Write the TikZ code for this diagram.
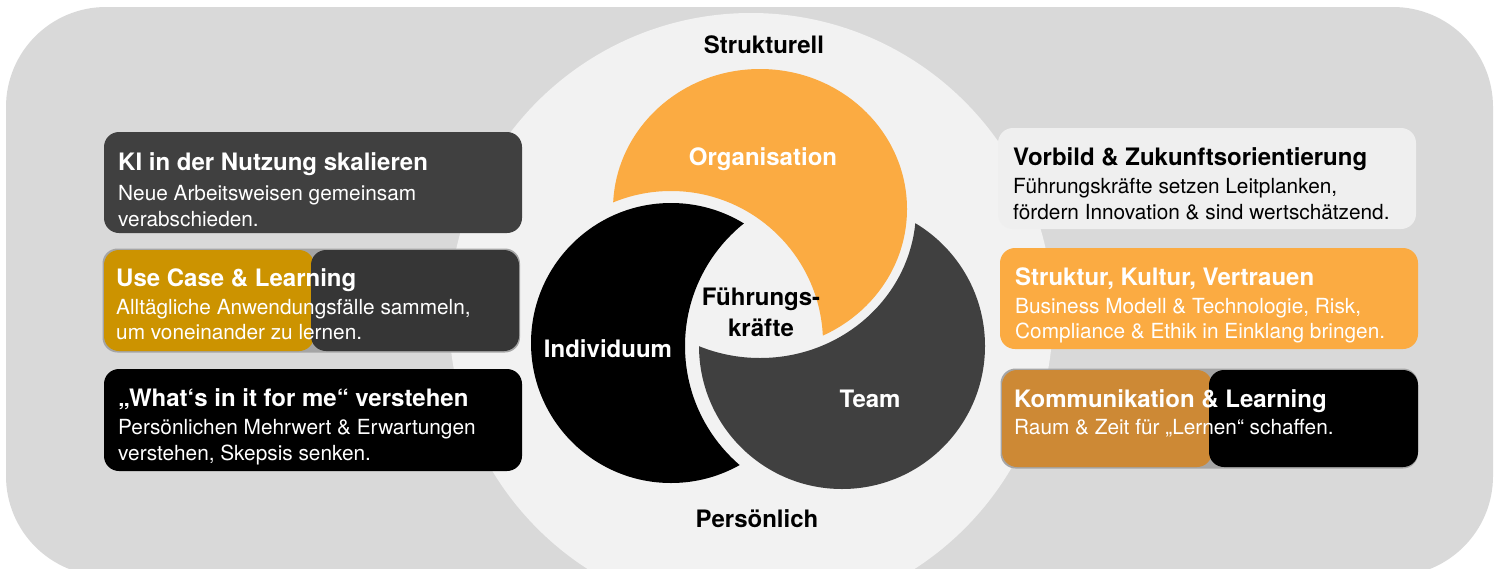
\documentclass[tikz,border=0pt]{standalone}
\usepackage{fontspec}
\setmainfont{TeX Gyre Heros}
\begin{document}
\begin{tikzpicture}[x=1pt,y=-1pt,
  title/.style={anchor=base west, inner sep=0pt, font=\bfseries\fontsize{24}{28}\selectfont},
  body/.style={anchor=base west, inner sep=0pt, font=\fontsize{20.8}{26}\selectfont},
  lab/.style={anchor=base, inner sep=0pt, font=\bfseries\fontsize{24}{28}\selectfont},
  card/.style={rounded corners=15pt}]
\definecolor{bgc}{HTML}{D9D9D9}
\definecolor{lightc}{HTML}{F2F2F2}
\definecolor{orangec}{HTML}{FBAB42}
\definecolor{teamc}{HTML}{404040}
\definecolor{goldc}{HTML}{CC9300}
\definecolor{darkc}{HTML}{363636}
\definecolor{brownc}{HTML}{CD8935}
\definecolor{shadowc}{HTML}{A5A5A5}
\definecolor{cardlight}{HTML}{EFEFEF}
\useasboundingbox (0,0) rectangle (1504,568);
\clip (0,0) rectangle (1504,568);
% background
\fill[bgc, rounded corners=100pt] (6,7) rectangle (1493,576);
\fill[lightc] (751,315) circle[radius=302pt];
% crescents: each outer shape minus the next shape enlarged by a gap
\begin{scope}
  \clip (760,209) ellipse[x radius=147pt, y radius=140pt];
  \fill[orangec, even odd rule] (400,0) rectangle (1100,568)
        (671,343) circle[radius=152pt];
\end{scope}
\begin{scope}
  \clip (671,343) circle[radius=140pt];
  \fill[black, even odd rule] (400,0) rectangle (1100,568)
        (842,346) circle[radius=157pt];
\end{scope}
\begin{scope}
  \clip (842,346) circle[radius=143pt];
  \fill[teamc, even odd rule] (400,0) rectangle (1100,568)
        (760,209) ellipse[x radius=156pt, y radius=149pt];
\end{scope}
% center labels
\node[lab] (strukturell) at (764,53) {Strukturell};
\node[lab, text=white] (org) at (763,165) {Organisation};
\node[lab] (fk1) at (761,305) {Führungs-};
\node[lab] (fk2) at (761,336) {kräfte};
\node[lab, text=white] (ind) at (608,357) {Individuum};
\node[lab, text=white] (team) at (870,407) {Team};
\node[lab] (pers) at (757,527) {Persönlich};
% left cards
\fill[teamc, card] (104,132) rectangle (522,233);
\node[title, text=white] (l1t) at (118,170) {KI in der Nutzung skalieren};
\node[body, text=white] (l1a) at (118,200) {Neue Arbeitsweisen gemeinsam};
\node[body, text=white] (l1b) at (118,226) {verabschieden.};

\fill[shadowc, card] (102.5,248.5) rectangle (520,352.5);
\fill[goldc, card] (104,250) rectangle (314,351);
\fill[darkc, card] (311,250) rectangle (519,351);
\node[title, text=white] (l2t) at (116,286) {Use Case \& Learning};
\node[body, text=white] (l2a) at (116,314) {Alltägliche Anwendungsfälle sammeln,};
\node[body, text=white] (l2b) at (116,339) {um voneinander zu lernen.};

\fill[black, card] (104,369) rectangle (522,471);
\node[title, text=white] (l3t) at (118,406) {„What‘s in it for me“ verstehen};
\node[body, text=white] (l3a) at (118,434) {Persönlichen Mehrwert \& Erwartungen};
\node[body, text=white] (l3b) at (118,460) {verstehen, Skepsis senken.};
% right cards
\fill[cardlight, card] (998,128) rectangle (1416,229);
\node[title] (r1t) at (1013,165) {Vorbild \& Zukunftsorientierung};
\node[body] (r1a) at (1013,193) {Führungskräfte setzen Leitplanken,};
\node[body] (r1b) at (1013,219) {fördern Innovation \& sind wertschätzend.};

\fill[orangec, card] (1000,248) rectangle (1418,349);
\node[title, text=white] (r2t) at (1015,285) {Struktur, Kultur, Vertrauen};
\node[body, text=white] (r2a) at (1015,313) {Business Modell \& Technologie, Risk,};
\node[body, text=white] (r2b) at (1015,338) {Compliance \& Ethik in Einklang bringen.};

\fill[shadowc, card] (1000.5,368.5) rectangle (1418,468.5);
\fill[brownc, card] (1002,370) rectangle (1212,467);
\fill[black, card] (1209,370) rectangle (1418,467);
\node[title, text=white] (r3t) at (1014,407) {Kommunikation \& Learning};
\node[body, text=white] (r3a) at (1014,434) {Raum \& Zeit für „Lernen“ schaffen.};
\end{tikzpicture}
\end{document}
